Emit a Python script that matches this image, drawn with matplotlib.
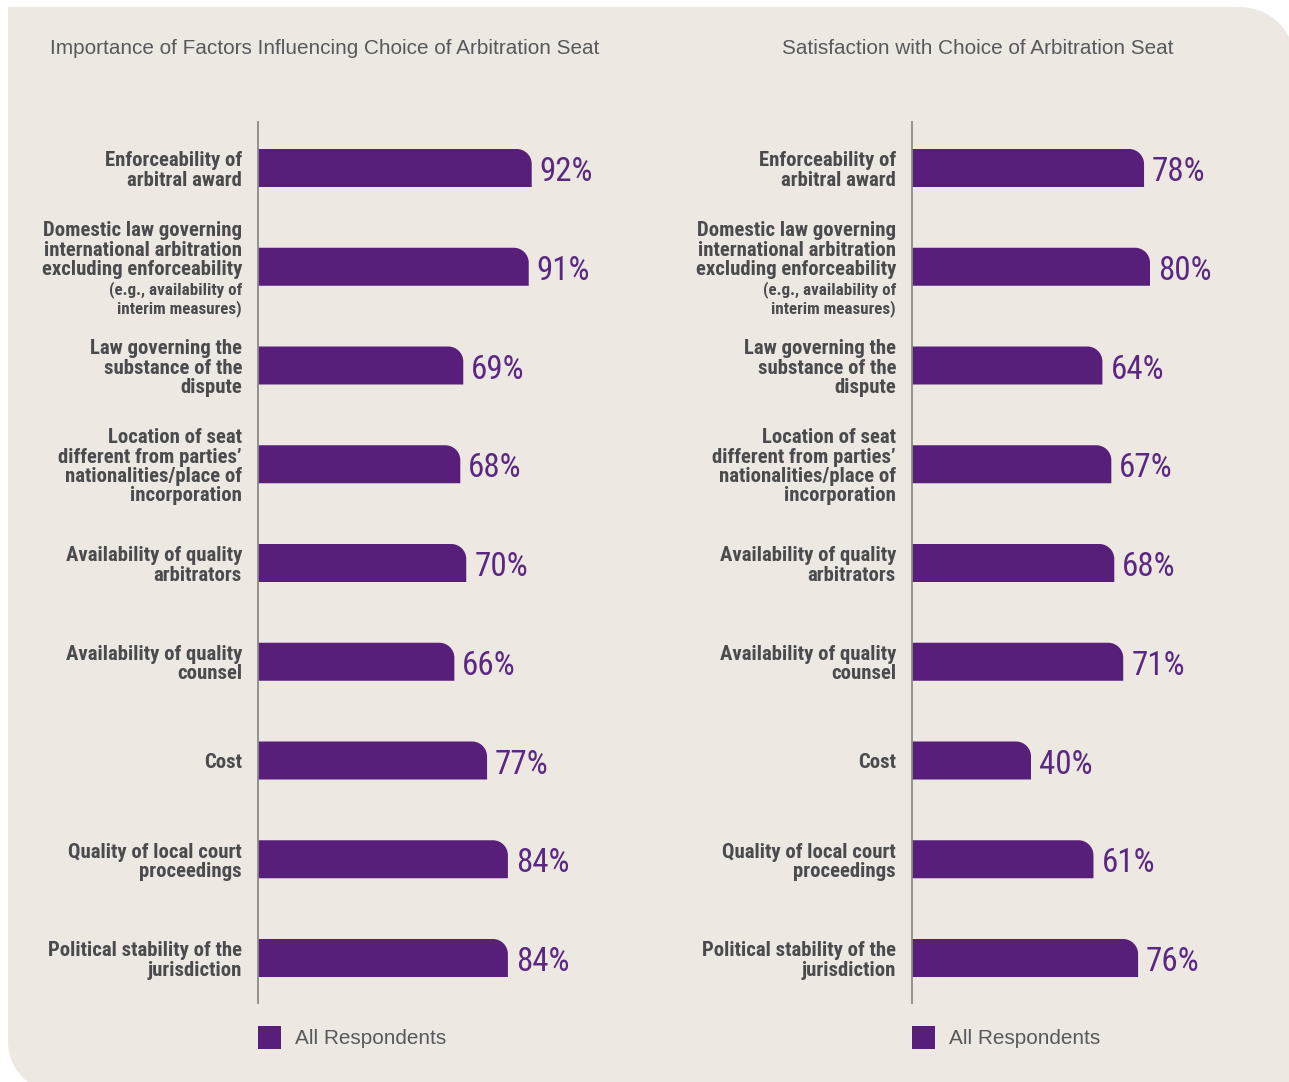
import matplotlib
matplotlib.use("Agg")
import matplotlib.pyplot as plt
from matplotlib import font_manager
from matplotlib.path import Path
from matplotlib.patches import PathPatch, Rectangle
from matplotlib.transforms import Affine2D

# survey data
factors = [
    "Enforceability of\narbitral award",
    "Domestic law governing\ninternational arbitration\nexcluding enforceability",
    "Law governing the\nsubstance of the\ndispute",
    "Location of seat\ndifferent from parties’\nnationalities/place of\nincorporation",
    "Availability of quality\narbitrators",
    "Availability of quality\ncounsel",
    "Cost",
    "Quality of local court\nproceedings",
    "Political stability of the\njurisdiction",
]
notes = ["", "(e.g., availability of\ninterim measures)", "", "", "", "", "", "", ""]
importance = [92, 91, 69, 68, 70, 66, 77, 84, 84]
satisfaction = [78, 80, 64, 67, 68, 71, 40, 61, 76]
titles = ["Importance of Factors Influencing Choice of Arbitration Seat",
          "Satisfaction with Choice of Arbitration Seat"]
legend_label = "All Respondents"

PURPLE = "#571f79"
VALUE_C = "#5a2882"
LABEL_C = "#4b4b4d"
TITLE_C = "#59595b"
PANEL_C = "#ede8e2"
AXIS_C = "#8a8a8a"

# look for a narrow face, otherwise fall back to a plain sans
fonts = {}
for f in font_manager.fontManager.ttflist:
    fonts.setdefault(f.name, set()).add(str(f.stretch))
NARROW, STRETCH, SCALE = "Roboto", "normal", 0.9
for name in ["Liberation Sans Narrow", "Roboto Condensed", "Open Sans Condensed",
             "Noto Sans Condensed", "DejaVu Sans Condensed"]:
    if name in fonts:
        NARROW, STRETCH, SCALE = name, "normal", 1.0
        break
else:
    for name in ["DejaVu Sans", "Noto Sans", "Open Sans"]:
        if name in fonts and ("condensed" in fonts[name] or "semi-condensed" in fonts[name]):
            NARROW, STRETCH, SCALE = name, "condensed", 0.92
            break
PLAIN = "Liberation Sans" if "Liberation Sans" in fonts else "DejaVu Sans"

W, H = 1289, 1082
PT = 0.72  # points per pixel at 100 dpi

fig = plt.figure(figsize=(W / 100, H / 100), dpi=100)
fig.patch.set_facecolor("white")

# pixel coords (origin top-left) -> figure
pix = Affine2D().scale(1 / W, -1 / H).translate(0, 1) + fig.transFigure

# background panel with two rounded corners
k = 0.5523
verts = [(8, 7), (1240, 7),
         (1240 + k * 55, 7), (1295, 62 - k * 55), (1295, 62),
         (1295, 1092), (58, 1092),
         (58 - k * 50, 1092), (8, 1042 + k * 50), (8, 1042),
         (8, 7)]
codes = [Path.MOVETO, Path.LINETO,
         Path.CURVE4, Path.CURVE4, Path.CURVE4,
         Path.LINETO, Path.LINETO,
         Path.CURVE4, Path.CURVE4, Path.CURVE4,
         Path.CLOSEPOLY]
fig.patches.append(PathPatch(Path(verts, codes), facecolor=PANEL_C,
                             edgecolor="none", transform=pix, zorder=-10))

ROW = 98.75     # px between bars
AX_W = 297.5    # px for 0..100 %
BAR_H = 38 / ROW
RAD = 15        # px corner radius
LINE = 19.2     # px between label lines
n = len(factors)


def rounded_bar(ax, rect):
    x0, y0 = rect.get_x(), rect.get_y()
    w, h = rect.get_width(), rect.get_height()
    rx = RAD / (AX_W / 100)
    ry = RAD / ROW
    yt = y0 + h
    v = [(x0, y0), (x0 + w, y0), (x0 + w, yt - ry),
         (x0 + w, yt - ry + k * ry), (x0 + w - rx + k * rx, yt), (x0 + w - rx, yt),
         (x0, yt), (x0, y0)]
    c = [Path.MOVETO, Path.LINETO, Path.LINETO,
         Path.CURVE4, Path.CURVE4, Path.CURVE4,
         Path.LINETO, Path.CLOSEPOLY]
    ax.add_patch(PathPatch(Path(v, c), facecolor=rect.get_facecolor(),
                           edgecolor="none", zorder=2))
    rect.remove()


def panel(left_px, values, title, title_x):
    ax = fig.add_axes([left_px / W, (H - 1003) / H, AX_W / W, 881 / H])
    ax.set_facecolor("none")
    ypos = [n - 1 - i for i in range(n)]
    bars = ax.barh(ypos, values, height=BAR_H, color=PURPLE, left=0)
    for r in list(bars):
        rounded_bar(ax, r)
    ax.set_xlim(0, 100)
    ax.set_ylim(-45 / ROW, n - 1 + 46 / ROW)
    for s in ["top", "right", "bottom"]:
        ax.spines[s].set_visible(False)
    ax.spines["left"].set_color(AXIS_C)
    ax.spines["left"].set_linewidth(1.3)
    ax.set_xticks([])
    ax.set_yticks([])

    for y, val, lab, note in zip(ypos, values, factors, notes):
        ax.annotate(f"{val}%", xy=(val, y), xytext=(8 * PT, -13 * PT),
                    textcoords="offset points", ha="left", va="baseline",
                    fontsize=33 * PT * SCALE, color=VALUE_C, family=NARROW,
                    fontstretch=STRETCH)
        lines = [(t, False) for t in lab.split("\n")]
        if note:
            lines += [(t, True) for t in note.split("\n")]
        m = len(lines)
        for j, (t, small) in enumerate(lines):
            off = (j - (m - 1) / 2) * LINE + 1 + 7
            ax.annotate(t, xy=(0, y), xycoords=("axes fraction", "data"),
                        xytext=(-16 * PT, -off * PT), textcoords="offset points",
                        ha="right", va="baseline",
                        fontsize=(17 if small else 20.8) * PT * SCALE,
                        fontweight="bold", color=LABEL_C, family=NARROW,
                        fontstretch=STRETCH)

    fig.text(title_x / W, 1 - 48 / H, title, ha="center", va="center",
             fontsize=20.8 * PT, color=TITLE_C, family=PLAIN)

    # legend swatch and label
    fig.patches.append(Rectangle((left_px, 1026), 23, 23, transform=pix,
                                 facecolor=PURPLE, edgecolor="none"))
    fig.text((left_px + 37) / W, 1 - 1039 / H, legend_label, ha="left",
             va="center", fontsize=20.8 * PT, color=TITLE_C, family=PLAIN)
    return ax


panel(258, importance, titles[0], 324.5)
panel(912, satisfaction, titles[1], 978)

fig.savefig("out.png", dpi=100, facecolor=fig.get_facecolor())
